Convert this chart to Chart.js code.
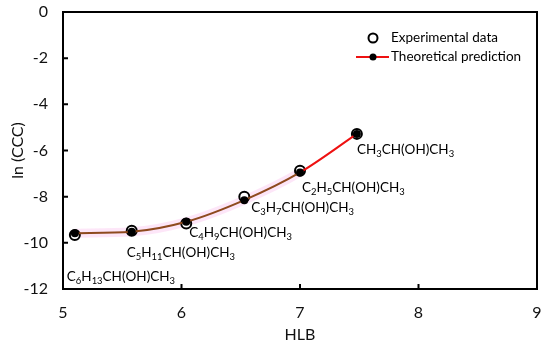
<!DOCTYPE html>
<html>
<head>
<meta charset="utf-8">
<script src="https://cdn.jsdelivr.net/npm/chart.js@4"></script>
<style>
  html, body { margin: 0; padding: 0; background: #fff; }
  #wrap { width: 550px; height: 349px; }
</style>
</head>
<body>
<div id="wrap"><canvas id="cccChart"></canvas></div>
<script>
// values
var hlb = [5.1, 5.58, 6.04, 6.53, 7.0, 7.48];
var lnCccExperimental = [-9.66, -9.48, -9.16, -8.0, -6.88, -5.28];
var lnCccTheoretical = [-9.58, -9.52, -9.09, -8.15, -6.95, -5.28];
var alcohols = ["C6H13CH(OH)CH3", "C5H11CH(OH)CH3", "C4H9CH(OH)CH3",
                "C3H7CH(OH)CH3", "C2H5CH(OH)CH3", "CH3CH(OH)CH3"];
var xTicks = [5, 6, 7, 8, 9];
var yTicks = [0, -2, -4, -6, -8, -10, -12];
var seriesNames = ["Experimental data", "Theoretical prediction"];

// label offsets from theory points, px
var labelOffsets = [[-8, 44], [-5, 21], [3, 11], [7, 8], [2, 15], [0, 16]];

var FONT = "Lato, 'Open Sans', sans-serif";
var BROWN = "#8e4a1e";
var RED = "#ee1111";
var TEXT = "#111";

function drawFormula(ctx, text, x, y, size) {
    var cx = x;
    for (var i = 0; i < text.length; i++) {
        var ch = text[i];
        var isSub = /[0-9]/.test(ch);
        ctx.font = (isSub ? size * 0.7 : size) + "px " + FONT;
        ctx.fillText(ch, cx, isSub ? y + size * 0.3 : y);
        cx += ctx.measureText(ch).width;
    }
}

var framePlugin = {
    id: "frame",
    beforeDatasetsDraw: function(chart) {
        var ctx = chart.ctx;
        var a = chart.chartArea;
        var xs = chart.scales.x, ys = chart.scales.y;
        ctx.save();
        ctx.strokeStyle = "#000";
        ctx.lineWidth = 2;
        ctx.strokeRect(a.left, a.top, a.right - a.left, a.bottom - a.top);
        ctx.beginPath();
        yTicks.forEach(function(v) {
            var py = ys.getPixelForValue(v);
            ctx.moveTo(a.left, py);
            ctx.lineTo(a.left + 5, py);
        });
        xTicks.forEach(function(v) {
            var px = xs.getPixelForValue(v);
            ctx.moveTo(px, a.bottom);
            ctx.lineTo(px, a.bottom - 5);
        });
        ctx.stroke();
        ctx.restore();
    },
    afterDraw: function(chart) {
        var ctx = chart.ctx;
        var xs = chart.scales.x, ys = chart.scales.y;
        ctx.save();
        ctx.fillStyle = "#000";
        ctx.textBaseline = "middle";
        ctx.textAlign = "left";
        alcohols.forEach(function(name, i) {
            var px = xs.getPixelForValue(hlb[i]) + labelOffsets[i][0];
            var py = ys.getPixelForValue(lnCccTheoretical[i]) + labelOffsets[i][1];
            drawFormula(ctx, name, px, py, 13.5);
        });

        // legend
        ctx.lineWidth = 2;
        ctx.strokeStyle = "#000";
        ctx.fillStyle = "#fff";
        ctx.beginPath();
        ctx.arc(373, 38, 4.5, 0, Math.PI * 2);
        ctx.fill();
        ctx.stroke();
        ctx.strokeStyle = RED;
        ctx.beginPath();
        ctx.moveTo(356, 57);
        ctx.lineTo(389, 57);
        ctx.stroke();
        ctx.fillStyle = "#000";
        ctx.beginPath();
        ctx.arc(373, 57, 3.5, 0, Math.PI * 2);
        ctx.fill();
        ctx.font = "13.5px " + FONT;
        ctx.fillText(seriesNames[0], 391, 38);
        ctx.fillText(seriesNames[1], 391, 57);
        ctx.restore();
    }
};

var expPoints = hlb.map(function(x, i) { return { x: x, y: lnCccExperimental[i] }; });
var theoPoints = hlb.map(function(x, i) { return { x: x, y: lnCccTheoretical[i] }; });

new Chart(document.getElementById("cccChart"), {
    type: "scatter",
    data: {
        datasets: [{
            label: seriesNames[1],
            data: theoPoints,
            showLine: true,
            cubicInterpolationMode: "monotone",
            borderWidth: 2,
            borderColor: BROWN,
            segment: {
                borderColor: function(c) { return c.p1DataIndex === hlb.length - 1 ? RED : BROWN; }
            },
            pointRadius: 4,
            pointBackgroundColor: "#000",
            pointBorderColor: "#000",
            pointBorderWidth: 0,
            order: 1
        }, {
            label: seriesNames[0],
            data: expPoints,
            showLine: false,
            pointRadius: 5,
            pointBackgroundColor: "#fff",
            pointBorderColor: "#000",
            pointBorderWidth: 2,
            order: 2
        }, {
            // faint pink halo seen around the curve in the original
            label: "halo",
            data: theoPoints,
            showLine: true,
            cubicInterpolationMode: "monotone",
            borderWidth: 9,
            borderColor: "rgba(250, 200, 240, 0.45)",
            segment: {
                borderColor: function(c) { return c.p1DataIndex === hlb.length - 1 ? "rgba(0,0,0,0)" : "rgba(250, 200, 240, 0.45)"; }
            },
            pointRadius: 0,
            order: 3
        }]
    },
    options: {
        responsive: true,
        maintainAspectRatio: false,
        animation: false,
        layout: { padding: { top: 12, right: 13, left: 0, bottom: 0 } },
        plugins: {
            legend: { display: false },
            tooltip: { enabled: false }
        },
        scales: {
            x: {
                type: "linear",
                min: 5, max: 9,
                afterFit: function(s) { s.height = 60; s.paddingLeft = 0; s.paddingRight = 0; },
                afterBuildTicks: function(s) { s.ticks = xTicks.map(function(v) { return { value: v }; }); },
                grid: { display: false, drawTicks: false },
                border: { display: false },
                ticks: { padding: 14, color: TEXT, font: { family: FONT, size: 16 } },
                title: { display: true, text: "HLB", color: TEXT, padding: { top: 0, bottom: 5 }, font: { family: FONT, size: 16 } }
            },
            y: {
                type: "linear",
                min: -12, max: 0,
                afterFit: function(s) { s.width = 63; s.paddingTop = 0; s.paddingBottom = 0; },
                afterBuildTicks: function(s) { s.ticks = yTicks.map(function(v) { return { value: v }; }); },
                grid: { display: false, drawTicks: false },
                border: { display: false },
                ticks: { padding: 15, color: TEXT, font: { family: FONT, size: 16 } },
                title: { display: true, text: "ln (CCC)", color: TEXT, padding: { top: 8, bottom: 0 }, font: { family: FONT, size: 16 } }
            }
        }
    },
    plugins: [framePlugin]
});
</script>
</body>
</html>
